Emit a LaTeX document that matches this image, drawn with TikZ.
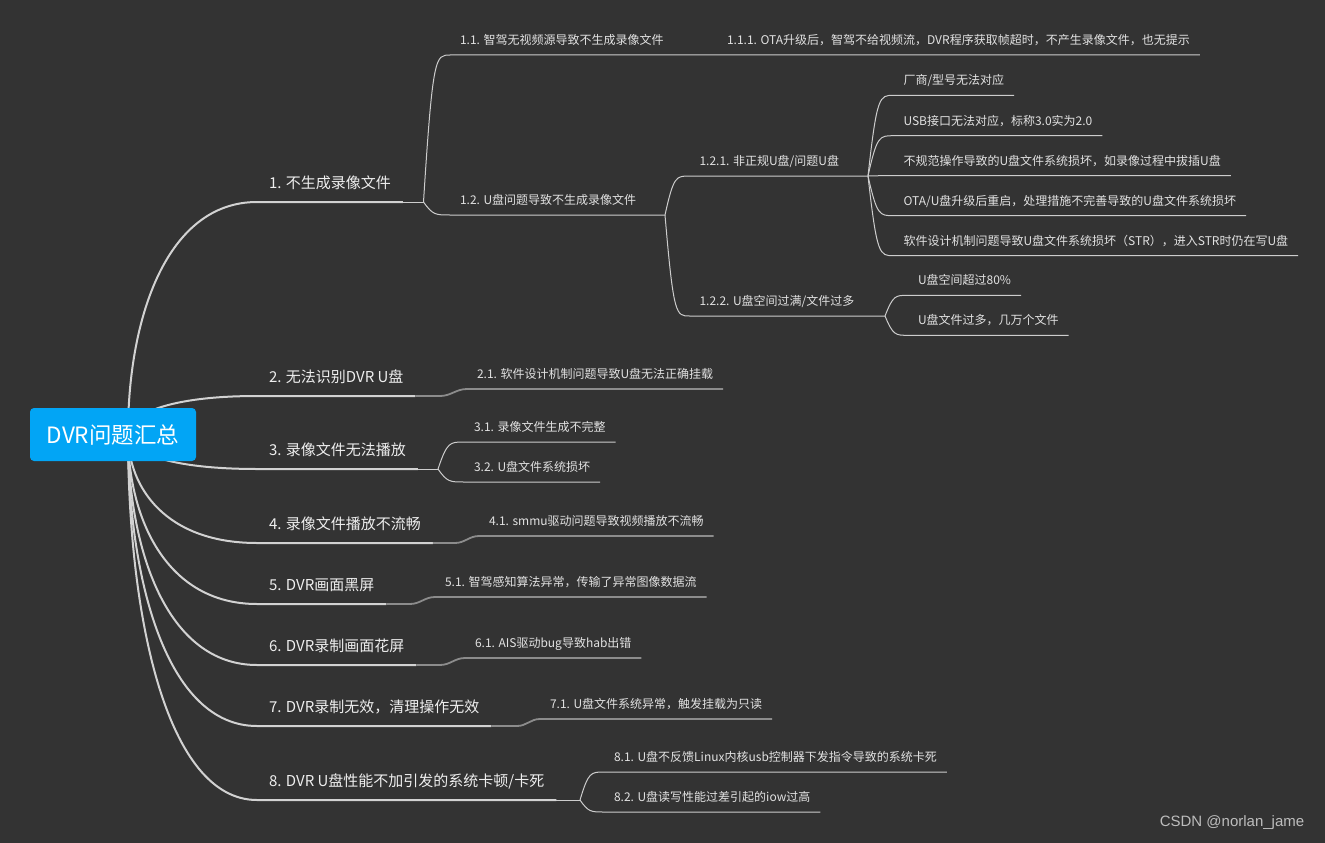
\documentclass[tikz,border=0pt]{standalone}
\usepackage{fontspec}
\setmainfont{Noto Sans CJK SC}
\newfontfamily\markfont{Liberation Sans}
\usepackage{xcolor}
\usepackage{tikz}
\usetikzlibrary{calc,backgrounds}

\definecolor{bgdark}{HTML}{333333}
\definecolor{rootblue}{HTML}{02A5F5}
\definecolor{topictext}{HTML}{EEEEEE}
\definecolor{subtext}{HTML}{E2E2E2}
\definecolor{linelight}{HTML}{D2D2D2}
\definecolor{linegray}{HTML}{8C8C8C}
\definecolor{linesoft}{HTML}{CDCDCD}
\definecolor{markgray}{HTML}{BDBDBD}

\begin{document}
\begin{tikzpicture}[x=1pt, y=-1pt,
    rootbox/.style={fill=rootblue, rounded corners=4pt, text=white, minimum width=166pt, minimum height=53pt, font=\fontsize{22.5}{26}\selectfont},
    topic/.style={anchor=south west, inner xsep=12pt, inner ysep=9.5pt, outer sep=0pt, text=topictext, text height=11pt, text depth=3.75pt, font=\fontsize{15}{18}\selectfont},
    subtopic/.style={anchor=south west, inner xsep=10pt, inner ysep=7.4pt, outer sep=0pt, text=subtext, text height=9pt, text depth=3pt, font=\fontsize{12}{14}\selectfont},
    mainline/.style={draw=linelight, line width=2pt},
    tailline/.style={draw=linegray, line width=1.8pt},
    subline/.style={draw=linesoft, line width=1pt},
    rootcurve/.style={to path={let \p1=(\tikztostart), \p2=(\tikztotarget) in .. controls (\x1,{(\y1+\y2)/2}) and ({\x1+0.3*(\x2-\x1)},\y2) .. (\tikztotarget)}},
    forkcurve/.style={to path={let \p1=(\tikztostart), \p2=(\tikztotarget) in .. controls ({\x1+0.35*(\x2-\x1)},\y2) and ({\x1+0.45*(\x2-\x1)},\y2) .. (\tikztotarget)}},
    ]
    \useasboundingbox (0,0) rectangle (1325,843);

    % root
    \node[rootbox] (root) at (113,434.5) {DVR问题汇总};
    \coordinate (rc) at (128,434);

    % main topics
    \node[topic] (t1) at (257,202) {1. 不生成录像文件};
    \node[topic] (t2) at (257,396) {2. 无法识别DVR U盘};
    \node[topic] (t3) at (257,469) {3. 录像文件无法播放};
    \node[topic] (t4) at (257,543) {4. 录像文件播放不流畅};
    \node[topic] (t5) at (257,604) {5. DVR画面黑屏};
    \node[topic] (t6) at (257,665) {6. DVR录制画面花屏};
    \node[topic] (t7) at (257,726) {7. DVR录制无效，清理操作无效};
    \node[topic] (t8) at (257,800) {8. DVR U盘性能不加引发的系统卡顿/卡死};

    % branch 1
    \coordinate (f1) at (423.5,202);
    \node[subtopic] (s11) at (450,55) {1.1. 智驾无视频源导致不生成录像文件};
    \node[subtopic] (s111) at (717,55) {1.1.1. OTA升级后，智驾不给视频流，DVR程序获取帧超时，不产生录像文件，也无提示};
    \node[subtopic] (s12) at (450,215) {1.2. U盘问题导致不生成录像文件};
    \coordinate (f12) at (665,215);
    \node[subtopic] (s121) at (689.5,176) {1.2.1. 非正规U盘/问题U盘};
    \node[subtopic] (s122) at (689.5,316) {1.2.2. U盘空间过满/文件过多};
    \coordinate (f121) at (868,176);
    \coordinate (f122) at (885,316);
    \node[subtopic] (s1211) at (893.5,95.3) {厂商/型号无法对应};
    \node[subtopic] (s1212) at (893.5,135.7) {USB接口无法对应，标称3.0实为2.0};
    \node[subtopic] (s1213) at (893.5,175.7) {不规范操作导致的U盘文件系统损坏，如录像过程中拔插U盘};
    \node[subtopic] (s1214) at (893.5,215.7) {OTA/U盘升级后重启，处理措施不完善导致的U盘文件系统损坏};
    \node[subtopic] (s1215) at (893.5,255.7) {软件设计机制问题导致U盘文件系统损坏（STR），进入STR时仍在写U盘};
    \node[subtopic] (s1221) at (908,295.3) {U盘空间超过80\%};
    \node[subtopic] (s1222) at (908,335.3) {U盘文件过多，几万个文件};

    % branches 2 to 8
    \coordinate (f2) at (440,396);
    \node[subtopic] (s21) at (467,389) {2.1. 软件设计机制问题导致U盘无法正确挂载};
    \coordinate (f3) at (438,469);
    \node[subtopic] (s31) at (464,442) {3.1. 录像文件生成不完整};
    \node[subtopic] (s32) at (464,482) {3.2. U盘文件系统损坏};
    \coordinate (f4) at (455,543);
    \node[subtopic] (s41) at (479,536) {4.1. smmu驱动问题导致视频播放不流畅};
    \coordinate (f5) at (410,604);
    \node[subtopic] (s51) at (435,597) {5.1. 智驾感知算法异常，传输了异常图像数据流};
    \coordinate (f6) at (440,665);
    \node[subtopic] (s61) at (465,658) {6.1. AIS驱动bug导致hab出错};
    \coordinate (f7) at (517,726);
    \node[subtopic] (s71) at (540,719) {7.1. U盘文件系统异常，触发挂载为只读};
    \coordinate (f8) at (580,800);
    \node[subtopic] (s81) at (604,772) {8.1. U盘不反馈Linux内核usb控制器下发指令导致的系统卡死};
    \node[subtopic] (s82) at (604,812) {8.2. U盘读写性能过差引起的iow过高};

    \node[font=\markfont\fontsize{15}{18}\selectfont, text=markgray] (mark) at (1232,823) {CSDN @norlan\_jame};

    \begin{scope}[on background layer]
        \fill[bgdark] (0,0) rectangle (1325,843);
        \foreach \t in {t1,t2,t3,t4,t5,t6,t7,t8}
            \draw[mainline] (rc) to[rootcurve] (\t.south west) -- (\t.south east);
    \end{scope}

    % links of branch 1
    \draw[subline] (t1.south east) -- (f1);
    \draw[subline] (f1) to[forkcurve] (s11.south west) -- (s11.south east) -- (s111.south west) -- (s111.south east);
    \draw[subline] (f1) to[forkcurve] (s12.south west) -- (s12.south east) -- (f12);
    \draw[subline] (f12) to[forkcurve] (s121.south west) -- (s121.south east) -- (f121);
    \draw[subline] (f12) to[forkcurve] (s122.south west) -- (s122.south east) -- (f122);
    \foreach \s in {s1211,s1212,s1213,s1214,s1215}
        \draw[subline] (f121) to[forkcurve] (\s.south west) -- (\s.south east);
    \foreach \s in {s1221,s1222}
        \draw[subline] (f122) to[forkcurve] (\s.south west) -- (\s.south east);

    % single children
    \draw[tailline] (t2.south east) -- (f2) to[out=0,in=180] (s21.south west) -- (s21.south east);
    \draw[tailline] (t4.south east) -- (f4) to[out=0,in=180] (s41.south west) -- (s41.south east);
    \draw[tailline] (t5.south east) -- (f5) to[out=0,in=180] (s51.south west) -- (s51.south east);
    \draw[tailline] (t6.south east) -- (f6) to[out=0,in=180] (s61.south west) -- (s61.south east);
    \draw[tailline] (t7.south east) -- (f7) to[out=0,in=180] (s71.south west) -- (s71.south east);

    % two children
    \draw[subline] (t3.south east) -- (f3);
    \draw[subline] (f3) to[forkcurve] (s31.south west) -- (s31.south east);
    \draw[subline] (f3) to[forkcurve] (s32.south west) -- (s32.south east);
    \draw[subline] (t8.south east) -- (f8);
    \draw[subline] (f8) to[forkcurve] (s81.south west) -- (s81.south east);
    \draw[subline] (f8) to[forkcurve] (s82.south west) -- (s82.south east);
\end{tikzpicture}
\end{document}
